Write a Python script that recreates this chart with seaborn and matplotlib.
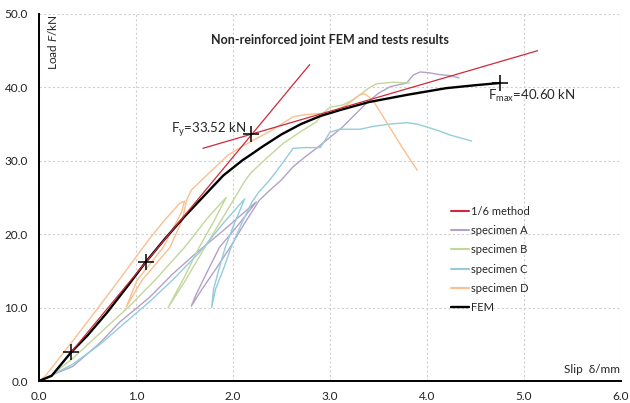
import matplotlib
matplotlib.use("Agg")
import matplotlib.pyplot as plt
from matplotlib.lines import Line2D
import seaborn as sns
import pandas as pd

# ---------------- data ----------------
# 1/6 method: two straight lines (initial stiffness line and post-yield line)
m16_a_x = [0.33, 2.79]
m16_a_y = [3.9, 43.1]
m16_b_x = [1.69, 5.14]
m16_b_y = [31.7, 45.0]

specA_x = [0, 0.13, 0.35, 0.63, 0.83, 1.14, 1.38, 1.6, 1.9, 2.1, 2.24,
           2.05, 1.86, 1.72, 1.62, 1.57,
           1.68, 1.82, 1.97, 2.12, 2.27, 2.38, 2.5, 2.62, 2.75, 2.86, 3.0, 3.13,
           3.25, 3.38, 3.5, 3.62, 3.72, 3.79, 3.86, 3.93, 4.02, 4.1, 4.24, 4.33]
specA_y = [0, 0.8, 2.0, 5.2, 8.0, 11.4, 14.6, 17.2, 20.5, 22.8, 24.4,
           21.2, 18.2, 14.5, 11.8, 10.2,
           12.5, 15.2, 18.2, 21.5, 24.6, 26.0, 27.4, 29.2, 30.6, 31.7, 33.2, 34.6,
           36.2, 37.9, 39.2, 40.1, 40.4, 40.6, 41.7, 42.1, 42.0, 41.8, 41.6, 41.3]

specB_x = [0, 0.13, 0.35, 0.66, 0.94, 1.2, 1.5, 1.75, 1.93,
           1.8, 1.65, 1.5, 1.33,
           1.5, 1.71, 1.92, 2.12, 2.18, 2.35, 2.52, 2.7, 2.86, 2.93, 3.0, 3.13,
           3.22, 3.31, 3.4, 3.48, 3.65, 3.82]
specB_y = [0, 0.8, 3.1, 6.9, 10.3, 13.8, 18.2, 22.4, 25.0,
           21.7, 18.2, 14.2, 10.0,
           13.5, 18.2, 22.8, 27.2, 28.3, 30.4, 32.4, 34.0, 35.3, 36.5, 37.3, 37.6,
           38.2, 39.0, 39.9, 40.5, 40.7, 40.6]

specC_x = [0, 0.13, 0.35, 0.63, 0.83, 1.14, 1.38, 1.66, 1.9, 2.12,
           2.0, 1.92, 1.85, 1.8, 1.78,
           1.82, 1.9, 1.98, 2.1, 2.2, 2.27, 2.38, 2.5, 2.62, 2.75, 2.9, 3.0, 3.1,
           3.31, 3.45, 3.62, 3.79, 3.9, 4.0, 4.12, 4.24, 4.35, 4.46]
specC_y = [0, 0.8, 2.3, 5.0, 7.3, 10.8, 13.8, 17.6, 21.5, 24.8,
           21.0, 18.2, 15.0, 12.5, 10.0,
           12.5, 15.2, 18.2, 21.8, 24.5, 25.8, 27.4, 29.5, 31.7, 31.8, 31.8, 33.9, 34.3,
           34.3, 34.7, 35.0, 35.2, 35.0, 34.6, 34.1, 33.5, 33.1, 32.7]

specD_x = [0, 0.06, 0.35, 0.6, 0.85, 1.14, 1.3, 1.45, 1.5,
           1.47, 1.28, 1.01, 0.9,
           1.06, 1.35, 1.48, 1.52, 1.57, 1.75, 1.95, 2.1, 2.18, 2.38, 2.5, 2.62,
           2.75, 2.86, 3.03, 3.17, 3.31, 3.36, 3.44, 3.6, 3.75, 3.9]
specD_y = [0, 0.6, 5.5, 9.8, 14.2, 19.4, 22.0, 24.2, 24.5,
           23.0, 18.2, 13.7, 10.1,
           13.7, 18.2, 22.0, 24.6, 26.0, 28.3, 30.8, 32.0, 32.6, 34.0, 35.0, 36.0,
           36.3, 36.4, 36.5, 37.6, 39.0, 39.1, 38.3, 34.9, 31.7, 28.7]

fem_x = [0, 0.13, 0.33, 0.5, 0.7, 0.9, 1.1, 1.3, 1.5, 1.7, 1.9, 2.1, 2.18, 2.3,
         2.5, 2.7, 2.9, 3.1, 3.4, 3.8, 4.2, 4.5, 4.75]
fem_y = [0, 0.7, 3.9, 6.2, 9.3, 12.7, 16.2, 19.4, 22.4, 25.2, 28.0, 30.1, 30.8, 31.9,
         33.6, 35.0, 36.1, 36.9, 38.0, 39.0, 39.9, 40.3, 40.6]

mark_x = [0.33, 1.1, 2.19, 4.75]
mark_y = [3.9, 16.2, 33.7, 40.6]

x_ticks = [0, 1, 2, 3, 4, 5, 6]
y_ticks = [0, 10, 20, 30, 40, 50]

labels = ["1/6 method", "specimen A", "specimen B", "specimen C", "specimen D", "FEM"]
colors = ["#cc2a3a", "#b3a2c7", "#c3d69b", "#93cddd", "#fac090", "#000000"]

# ---------------- style ----------------
sns.set_style("white")
plt.rcParams["font.family"] = ["Lato", "DejaVu Sans"]
plt.rcParams["mathtext.fontset"] = "custom"
plt.rcParams["mathtext.rm"] = "Lato"
plt.rcParams["mathtext.it"] = "Lato:italic"

fig = plt.figure(figsize=(6.3, 4.03), dpi=100)
ax = fig.add_axes([39 / 630, 22 / 403, 582 / 630, 367 / 403])

def draw(xs, ys, color, lw):
    df = pd.DataFrame({"x": xs, "y": ys})
    sns.lineplot(data=df, x="x", y="y", sort=False, estimator=None, color=color,
                 linewidth=lw, ax=ax)

draw(specA_x, specA_y, colors[1], 1.0)
draw(specB_x, specB_y, colors[2], 1.0)
draw(specC_x, specC_y, colors[3], 1.0)
draw(specD_x, specD_y, colors[4], 1.0)
draw(fem_x, fem_y, colors[5], 1.7)
draw(m16_a_x, m16_a_y, colors[0], 0.9)
draw(m16_b_x, m16_b_y, colors[0], 0.9)

ax.plot(mark_x, mark_y, linestyle="none", marker="+", markersize=12,
        markeredgewidth=1.1, color="black", zorder=5)

ax.set_xlim(0, 6)
ax.set_ylim(0, 50)
ax.set_xticks(x_ticks)
ax.set_yticks(y_ticks)
ax.set_xticklabels([f"{v:.1f}" for v in x_ticks])
ax.set_yticklabels([f"{v:.1f}" for v in y_ticks])
ax.tick_params(axis="both", length=0, labelsize=8.5, colors="#222222")
ax.tick_params(axis="x", pad=7)
ax.tick_params(axis="y", pad=8)
ax.set_xlabel("")
ax.set_ylabel("")

ax.grid(True, color="#d0d0d0", linestyle=(0, (2, 2)), linewidth=0.8)
for s in ["top", "right"]:
    ax.spines[s].set_visible(False)
for s in ["left", "bottom"]:
    ax.spines[s].set_color("black")
    ax.spines[s].set_linewidth(1.4)

ax.text(0.5, 0.93, "Non-reinforced joint FEM and tests results", transform=ax.transAxes,
        ha="center", va="center", fontsize=9, fontweight="bold")
ax.text(0.012, 1.0, r"Load $\it{F}$/kN", transform=ax.transAxes, rotation=90,
        ha="left", va="top", fontsize=8.5)
ax.text(0.998, 0.015, "Slip  δ/mm", transform=ax.transAxes, ha="right", va="bottom",
        fontsize=8.5)
ax.text(2.14, 34.3, r"F$_\mathrm{y}$=33.52 kN", ha="right", va="center", fontsize=9.5)
ax.text(4.63, 38.9, r"F$_\mathrm{max}$=40.60 kN", ha="left", va="center", fontsize=9.5)

handles = [Line2D([0], [0], color=c, lw=(1.7 if c == "#000000" else 1.5)) for c in colors]
ax.legend(handles, labels, loc="upper left", bbox_to_anchor=(0.7, 0.49), frameon=False,
          fontsize=8, handlelength=1.6, handletextpad=0.2, labelspacing=0.75,
          borderaxespad=0)

fig.savefig("out.png", dpi=100)
